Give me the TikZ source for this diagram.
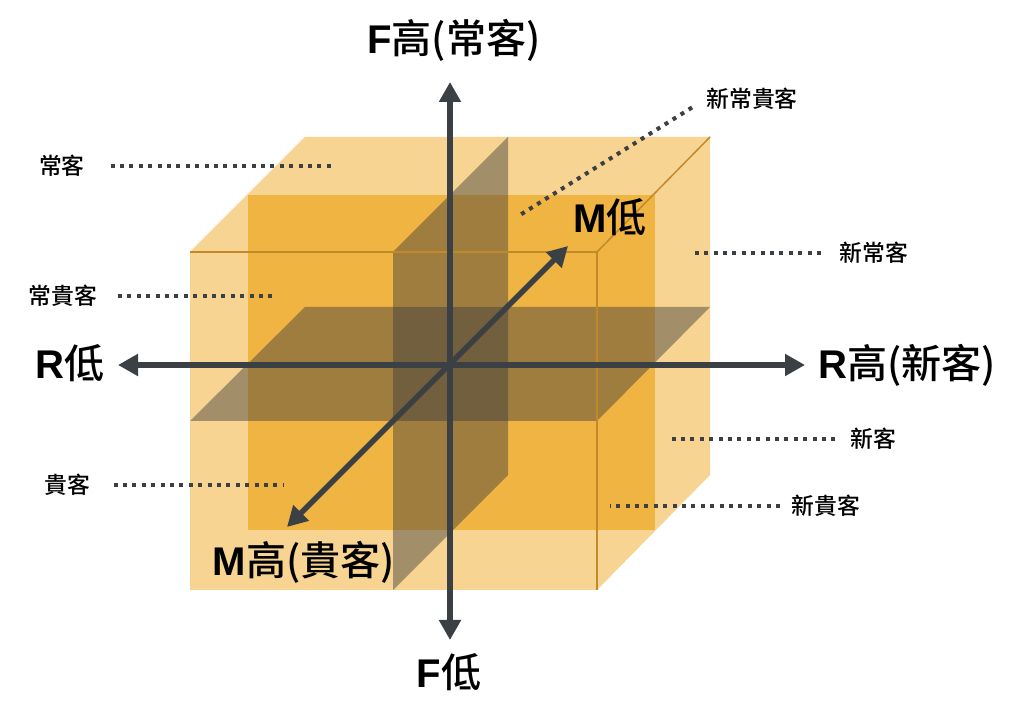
\documentclass[tikz,border=0pt]{standalone}
\usepackage{fontspec}
\setmainfont{Noto Sans CJK TC Medium}
\newfontfamily\latinfont{Liberation Sans}
\usetikzlibrary{arrows.meta}

\definecolor{cubelight}{HTML}{F7D491}
\definecolor{cubedark}{HTML}{F0B443}
\definecolor{cubeedge}{HTML}{C08A2A}
\definecolor{axisgray}{HTML}{3B4045}
\definecolor{planegray}{HTML}{3C3C3C}
\newcommand{\axletter}[1]{{\latinfont\bfseries #1}}

\begin{document}
\begin{tikzpicture}[x=.1mm,y=-.1mm,
  axis/.style={draw=axisgray,line width=.55mm,{Triangle[width=2.1mm,length=2mm]}-{Triangle[width=2.1mm,length=2mm]}},
  leader/.style={draw=axisgray,line width=.4mm,dash pattern=on .4mm off .54mm},
  plane/.style={fill=planegray,fill opacity=.45},
  biglabel/.style={font=\fontsize{11.4}{13}\selectfont},
  smalllabel/.style={font=\fontsize{6.5}{8}\selectfont,inner sep=0pt}]
\useasboundingbox (0,0) rectangle (1024,722);
% cube
\coordinate (A) at (190,252); \coordinate (B) at (597,252); \coordinate (C) at (597,590); \coordinate (D) at (190,590);
\coordinate (E) at (305,137); \coordinate (G) at (710,137); \coordinate (H) at (710,475);
\fill[cubelight] (D)--(A)--(E)--(G)--(H)--(C)--cycle;
\fill[cubedark] (248,195) rectangle (655,530);
% cutting planes
\fill[plane] (190,421)--(305,307)--(710,307)--(597,421)--cycle;
\fill[plane] (393,590)--(393,252)--(508,137)--(508,475)--cycle;
\draw[cubeedge,line width=.15mm] (A)--(B)--(C); \draw[cubeedge,line width=.15mm] (B)--(G);
% segment labels
\node[smalllabel] (chang) at (62,166) {常客}; \coordinate (chang') at (336,166);
\node[smalllabel] (changgui) at (63,296) {常貴客}; \coordinate (changgui') at (275,296);
\node[smalllabel] (gui) at (67,485) {貴客}; \coordinate (gui') at (283,485);
\node[smalllabel] (xinchanggui) at (752,99) {新常貴客}; \coordinate (xinchanggui') at (520,215);
\node[smalllabel] (xinchang) at (874,253) {新常客}; \coordinate (xinchang') at (690,253);
\node[smalllabel] (xin) at (873,439) {新客}; \coordinate (xin') at (667,439);
\node[smalllabel] (xingui) at (826,506) {新貴客}; \coordinate (xingui') at (610,506);
\draw[leader,shorten <=2.5mm] (chang) -- (chang');
\draw[leader,shorten <=2mm] (changgui) -- (changgui');
\draw[leader,shorten <=2.3mm] (gui) -- (gui');
\draw[leader,shorten <=1.6mm] (xinchanggui.west) -- (xinchanggui');
\draw[leader,shorten <=1.8mm] (xinchang) -- (xinchang');
\draw[leader,shorten <=1.4mm] (xin) -- (xin');
\draw[leader,shorten <=1.1mm] (xingui) -- (xingui');
% axes
\coordinate (Ftop) at (450,82); \coordinate (Fbot) at (450,640);
\coordinate (Rleft) at (118,365); \coordinate (Rright) at (805,365);
\coordinate (Mhigh) at (287,527); \coordinate (Mlow) at (568,246);
\draw[axis] (Ftop)--(Fbot); \draw[axis] (Rleft)--(Rright); \draw[axis] (Mhigh)--(Mlow);
\node[biglabel] (Fhi) at (454,40) {\axletter{F}高(常客)};
\node[biglabel] (Flo) at (449,672) {\axletter{F}低};
\node[biglabel] (Rlo) at (70,363) {\axletter{R}低};
\node[biglabel] (Rhi) at (907,365) {\axletter{R}高(新客)};
\node[biglabel] (Mlo) at (610,217) {\axletter{M}低};
\node[biglabel] (Mhi) at (304,562) {\axletter{M}高(貴客)};
\end{tikzpicture}
\end{document}
